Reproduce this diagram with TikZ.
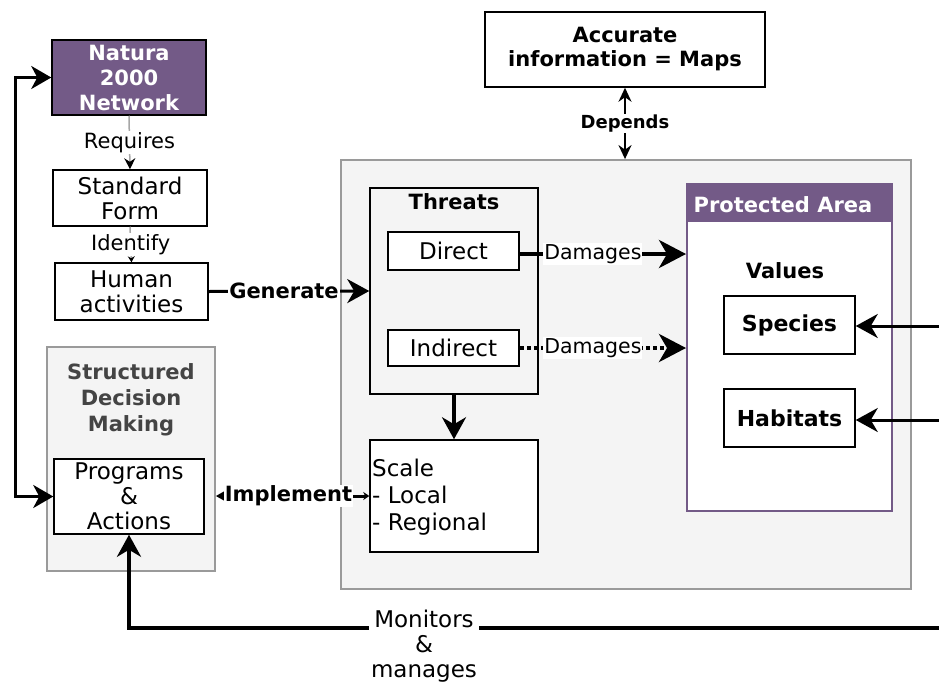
\documentclass[tikz,border=0pt]{standalone}
\usepackage{fontspec}
\setmainfont{DejaVu Sans}
\usetikzlibrary{arrows.meta}
\definecolor{purp}{HTML}{735A87}
\definecolor{panelgray}{HTML}{F4F4F4}
\definecolor{panelborder}{HTML}{9A9A9A}
\definecolor{sdmtext}{HTML}{444444}
\tikzset{
  base/.style={inner sep=0pt, align=center, font=\fontsize{23}{25}\selectfont},
  box/.style={base, draw=black, line width=1.5pt, fill=white},
  panel/.style={draw=panelborder, line width=1.8pt, fill=panelgray, inner sep=0pt},
  lbl/.style={font=\fontsize{21}{24}\selectfont, text=black, fill=white, inner sep=1pt},
  blbl/.style={font=\bfseries\fontsize{21}{25}\selectfont, fill=white, inner sep=1pt},
  bigtip/.style={-{Stealth[length=22pt,width=24pt,inset=7pt]}},
  hugetip/.style={-{Stealth[length=27pt,width=28pt,inset=8pt]}},
  thickline/.style={line width=3.5pt},
}
\begin{document}
\begin{tikzpicture}[x=1pt,y=-1pt]
\useasboundingbox (0,0) rectangle (939,685);
\fill[white] (0,0) rectangle (939,685);

% panels
\node[panel, minimum width=570pt, minimum height=429pt] (panel) at (626,374.5) {};
\node[panel, minimum width=168pt, minimum height=224pt] (sdm) at (131,459) {};
\node[base, font=\bfseries\fontsize{21}{26}\selectfont, text=sdmtext] (sdmtitle) at (131,400) {Structured\\Decision\\Making};

% left column
\node[box, fill=purp, text=white, font=\bfseries\fontsize{21}{25}\selectfont, minimum width=154pt, minimum height=75pt] (natura) at (129,77.5) {Natura\\2000\\Network};
\node[box, minimum width=154pt, minimum height=56pt] (sform) at (130,198) {Standard\\Form};
\node[box, minimum width=153pt, minimum height=57pt] (human) at (131.5,291.5) {Human\\activities};
\node[box, minimum width=150pt, minimum height=75pt] (programs) at (129,496.5) {Programs\\\&\\Actions};

% top box
\node[box, font=\bfseries\fontsize{21}{24}\selectfont, minimum width=280pt, minimum height=75pt] (acc) at (625,49.5) {Accurate\\information = Maps};

% threats
\node[box, fill=panelgray, minimum width=168pt, minimum height=206pt] (threats) at (454,291) {};
\node[base, font=\bfseries\fontsize{21}{25}\selectfont] (threatstitle) at (454,202) {Threats};
\node[box, minimum width=131pt, minimum height=38pt] (direct) at (453.5,251) {Direct};
\node[box, minimum width=131pt, minimum height=36pt] (indirect) at (453.5,348) {Indirect};
\node[box, minimum width=168pt, minimum height=112pt] (scale) at (454,496) {};
\node[base, align=left, anchor=west, font=\fontsize{23}{27}\selectfont] (scaletext) at (372,497) {Scale\\- Local\\- Regional};

% protected area
\node[draw=purp, line width=2pt, fill=white, inner sep=0pt, minimum width=205pt, minimum height=327pt] (pa) at (789.5,347.5) {};
\node[draw=purp, line width=2pt, fill=purp, inner sep=0pt, minimum width=205pt, minimum height=37pt] (pahead) at (789.5,202.5) {};
\node[base, text=white, font=\bfseries\fontsize{21}{24}\selectfont] (patitle) at (783,205) {Protected Area};
\node[base, font=\bfseries\fontsize{21}{25}\selectfont] (values) at (785,271) {Values};
\node[box, font=\bfseries\fontsize{22}{25}\selectfont, minimum width=131pt, minimum height=58pt] (species) at (789.5,325) {Species};
\node[box, font=\bfseries\fontsize{22}{25}\selectfont, minimum width=131pt, minimum height=58pt] (habitats) at (789.5,418) {Habitats};

% free ends
\coordinate (spR) at (939,326);
\coordinate (haR) at (939,420);
\coordinate (monR) at (939,628);
\coordinate (loopx) at (15,0);

% connectors
\draw[gray!70, line width=1.5pt, -{Stealth[black,length=11pt,width=11pt]}] (natura.south) -- (sform.north)
  node[midway, lbl] {Requires};
\draw[gray!70, line width=1.5pt, -{Stealth[black,length=6pt,width=7pt]}] (sform.south) -- (human.north)
  node[midway, lbl] {Identify};
\draw[line width=3pt, bigtip] (human.east) -- (threats.west)
  node[midway, blbl, xshift=-5pt] {Generate};
\draw[line width=4pt, hugetip] (direct.east |- 0,254) -- (pa.west |- 0,254)
  node[midway, lbl, font=\fontsize{20.5}{24}\selectfont, xshift=-10pt] {Damages};
\draw[line width=4pt, dash pattern=on 4pt off 3pt, hugetip] (indirect.east) -- (pa.west |- indirect.east)
  node[midway, lbl, font=\fontsize{20.5}{24}\selectfont, xshift=-10pt] {Damages};
\draw[thickline, bigtip] (threats.south) -- (scale.north);
\draw[line width=3pt, {Stealth[length=16pt,width=18pt,inset=5pt]}-{Stealth[length=6pt,width=8pt]}]
  (sdm.east |- scale.west) -- (scale.west) node[midway, blbl, xshift=-4pt] {Implement};
\draw[line width=3pt, {Stealth[length=20pt,width=23pt,inset=6pt]}-{Stealth[length=20pt,width=23pt,inset=6pt]}]
  (programs.west) -- (loopx |- programs.west) -- (loopx |- natura.west) -- (natura.west);
\draw[line width=4pt, bigtip] (monR) -- (programs.south |- monR) -- (programs.south);
\node[base, fill=white, inner sep=2pt] (monlbl) at (424,646) {Monitors\\\&\\manages};
\draw[line width=3pt, bigtip] (spR) -- (species.east |- spR);
\draw[line width=3pt, bigtip] (haR) -- (habitats.east |- haR);
\draw[line width=2pt, {Stealth[length=14pt,width=13pt]}-{Stealth[length=14pt,width=13pt]}]
  (acc.south) -- (acc.south |- panel.north)
  node[midway, fill=white, inner sep=1pt, font=\bfseries\fontsize{18}{20}\selectfont] {Depends};
\end{tikzpicture}
\end{document}
